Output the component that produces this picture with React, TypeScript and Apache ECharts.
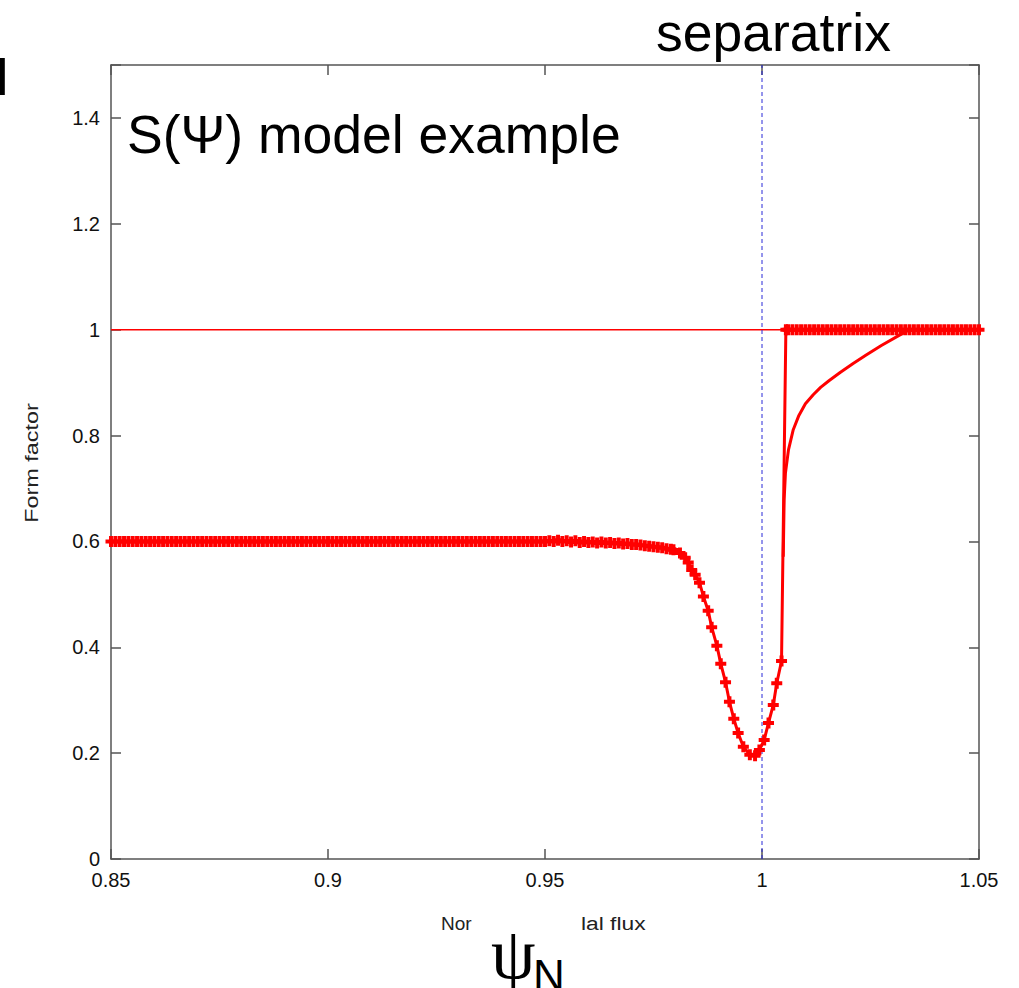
import React, { useEffect, useRef } from "react";
import * as echarts from "echarts";

// x-axis ticks (normalized poloidal flux) and y-axis ticks (form factor)
const xTicks = [0.85, 0.9, 0.95, 1.0, 1.05];
const yTicks = [0, 0.2, 0.4, 0.6, 0.8, 1.0, 1.2, 1.4];
const yMax = 1.5;

// S(psi) model: marked profile, flat core part
const coreX = [
  0.85, 0.851, 0.852, 0.853, 0.854, 0.855, 0.856, 0.857, 0.858, 0.859,
  0.86, 0.861, 0.862, 0.863, 0.864, 0.865, 0.866, 0.867, 0.868, 0.869,
  0.87, 0.871, 0.872, 0.873, 0.874, 0.875, 0.876, 0.877, 0.878, 0.879,
  0.88, 0.881, 0.882, 0.883, 0.884, 0.885, 0.886, 0.887, 0.888, 0.889,
  0.89, 0.891, 0.892, 0.893, 0.894, 0.895, 0.896, 0.897, 0.898, 0.899,
  0.9, 0.901, 0.902, 0.903, 0.904, 0.905, 0.906, 0.907, 0.908, 0.909,
  0.91, 0.911, 0.912, 0.913, 0.914, 0.915, 0.916, 0.917, 0.918, 0.919,
  0.92, 0.921, 0.922, 0.923, 0.924, 0.925, 0.926, 0.927, 0.928, 0.929,
  0.93, 0.931, 0.932, 0.933, 0.934, 0.935, 0.936, 0.937, 0.938, 0.939,
  0.94, 0.941, 0.942, 0.943, 0.944, 0.945, 0.946, 0.947, 0.948, 0.949,
  0.95,
];
const coreValue = 0.6;

// edge region (shoulder + dip) of the marked profile
const edgeX = [
  0.951, 0.952, 0.953, 0.954, 0.955, 0.956, 0.957, 0.958, 0.959, 0.96,
  0.961, 0.962, 0.963, 0.964, 0.965, 0.966, 0.967, 0.968, 0.969, 0.97,
  0.971, 0.972, 0.973, 0.974, 0.975, 0.976, 0.977, 0.978, 0.979,
  0.9796, 0.9811, 0.9823, 0.983, 0.9838, 0.9846, 0.9856, 0.9865, 0.9876,
  0.9884, 0.9896, 0.9905, 0.9916, 0.9925, 0.9935, 0.9945, 0.9957, 0.9972,
  0.9984, 0.9994, 1.0005, 1.0015, 1.0026, 1.0034, 1.0045,
];
const edgeY = [
  0.601, 0.6, 0.602, 0.6, 0.601, 0.599, 0.601, 0.598, 0.6, 0.598,
  0.599, 0.597, 0.599, 0.597, 0.598, 0.596, 0.597, 0.595, 0.596, 0.594,
  0.594, 0.593, 0.592, 0.591, 0.59, 0.589, 0.588, 0.586, 0.585,
  0.584, 0.578, 0.569, 0.56, 0.546, 0.537, 0.522, 0.496, 0.469,
  0.438, 0.403, 0.369, 0.334, 0.297, 0.265, 0.238, 0.212, 0.197,
  0.195, 0.206, 0.225, 0.257, 0.291, 0.332, 0.374,
];

// SOL region of the marked profile (after the jump)
const solX = [
  1.0055, 1.006, 1.007, 1.008, 1.009, 1.01, 1.011, 1.012, 1.013, 1.014,
  1.015, 1.016, 1.017, 1.018, 1.019, 1.02, 1.021, 1.022, 1.023, 1.024,
  1.025, 1.026, 1.027, 1.028, 1.029, 1.03, 1.031, 1.032, 1.033, 1.034,
  1.035, 1.036, 1.037, 1.038, 1.039, 1.04, 1.041, 1.042, 1.043, 1.044,
  1.045, 1.046, 1.047, 1.048, 1.049, 1.05,
];
const solValue = 1.0;

// smooth relaxation curve (no markers)
const relaxX = [
  1.0049, 1.0051, 1.0054, 1.0061, 1.0072, 1.0085, 1.01, 1.0118, 1.0135,
  1.0155, 1.018, 1.021, 1.024, 1.0275, 1.0326, 1.034, 1.05,
];
const relaxY = [
  0.571, 0.679, 0.729, 0.773, 0.811, 0.838, 0.86, 0.877, 0.891,
  0.904, 0.919, 0.936, 0.952, 0.97, 0.994, 1.0, 1.0,
];

const refLevel = 1.0; // thin horizontal reference line
const separatrixX = 1.0; // dashed vertical line

const CROSS = "path://M3.2,0H6.8V3.2H10V6.8H6.8V10H3.2V6.8H0V3.2H3.2Z";
const RED = "#ff0000";
const AXIS = "#555555";
const SANS = "'Liberation Sans', Arial, Helvetica, sans-serif";
const SERIF = "'Liberation Serif', 'Times New Roman', serif";

export default function App() {
  const ref = useRef<HTMLDivElement>(null);

  useEffect(() => {
    if (!ref.current) return;
    const chart = echarts.init(ref.current, undefined, { renderer: "svg" });

    const marked: number[][] = [];
    coreX.forEach((x) => marked.push([x, coreValue]));
    edgeX.forEach((x, i) => marked.push([x, edgeY[i]]));
    solX.forEach((x) => marked.push([x, solValue]));
    const relax = relaxX.map((x, i) => [x, relaxY[i]]);
    const xMin = xTicks[0];
    const xMax = xTicks[xTicks.length - 1];

    const fmtX = (v: number) => String(+v.toFixed(2));
    const fmtY = (v: number) => (v > yTicks[yTicks.length - 1] + 0.05 ? "" : String(+v.toFixed(1)));

    const baseAxis = {
      type: "value" as const,
      axisLine: { show: true, onZero: false, lineStyle: { color: AXIS, width: 1.5 } },
      axisTick: { show: true, inside: true, length: 10, lineStyle: { color: AXIS, width: 1.5 } },
      splitLine: { show: false },
    };
    const labelStyle = { color: "#111", fontSize: 20, fontFamily: SANS, margin: 11 };

    chart.setOption({
      animation: false,
      backgroundColor: "#ffffff",
      grid: { left: 111, right: 40, top: 65, bottom: 129, containLabel: false },
      xAxis: [
        { ...baseAxis, position: "bottom", min: xMin, max: xMax, interval: 0.05, axisLabel: { ...labelStyle, formatter: fmtX } },
        { ...baseAxis, position: "top", min: xMin, max: xMax, interval: 0.05, axisLabel: { show: false } },
      ],
      yAxis: [
        { ...baseAxis, position: "left", min: yTicks[0], max: yMax, interval: 0.2, axisLabel: { ...labelStyle, formatter: fmtY } },
        { ...baseAxis, position: "right", min: yTicks[0], max: yMax, interval: 0.2, axisLabel: { show: false } },
      ],
      series: [
        {
          type: "line",
          name: "reference",
          data: [[xMin, refLevel], [xMax, refLevel]],
          symbol: "none",
          lineStyle: { color: RED, width: 1.5 },
          z: 1,
        },
        {
          type: "line",
          name: "separatrix",
          data: [[separatrixX, yTicks[0]], [separatrixX, yMax]],
          symbol: "none",
          lineStyle: { color: "#2a2ad8", width: 1, type: [4, 3] },
          z: 1,
        },
        {
          type: "line",
          name: "relax",
          data: relax,
          symbol: "none",
          smooth: false,
          lineStyle: { color: RED, width: 3, join: "round" },
          z: 2,
        },
        {
          type: "line",
          name: "S",
          data: marked,
          symbol: CROSS,
          symbolSize: 11,
          itemStyle: { color: RED },
          lineStyle: { color: RED, width: 3 },
          z: 3,
        },
      ],
      graphic: [
        { type: "text", x: -5, y: 76, style: { text: "I", font: `53px ${SANS}`, fill: "#000", verticalAlign: "middle" } },
        { type: "text", x: 127, y: 134, style: { text: "S(Ψ) model example", font: `53.5px ${SANS}`, fill: "#000", verticalAlign: "middle" } },
        { type: "text", x: 656, y: 32, style: { text: "separatrix", font: `53.5px ${SANS}`, fill: "#000", verticalAlign: "middle" } },
        {
          type: "text",
          x: 32,
          y: 463,
          rotation: Math.PI / 2,
          scaleX: 1.3,
          style: { text: "Form factor", font: `18px ${SANS}`, fill: "#222", align: "center", verticalAlign: "middle" },
        },
        { type: "text", x: 441, y: 923, style: { text: "Nor", font: `19px ${SANS}`, fill: "#222", verticalAlign: "middle" } },
        { type: "text", x: 581, y: 923, scaleX: 1.2, style: { text: "lal flux", font: `19px ${SANS}`, fill: "#222", verticalAlign: "middle" } },
        { type: "text", x: 491, y: 954, style: { text: "ψ", font: `71px ${SERIF}`, fill: "#000", verticalAlign: "middle" } },
        { type: "text", x: 533, y: 975, style: { text: "N", font: `44px ${SANS}`, fill: "#000", verticalAlign: "middle" } },
      ],
    });

    return () => chart.dispose();
  }, []);

  return (
    <div
      ref={ref}
      style={{ position: "fixed", left: 0, top: 0, width: 1019, height: 988, background: "#fff" }}
    />
  );
}
